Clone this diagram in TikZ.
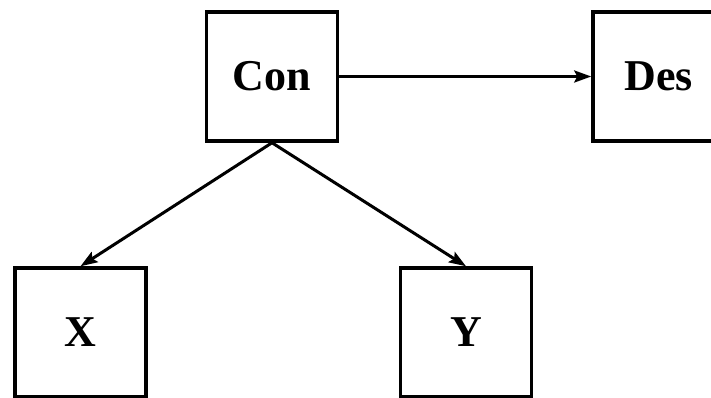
\documentclass[tikz,border=0pt]{standalone}
\usepackage{fontspec}
\setmainfont{Liberation Serif}
\usetikzlibrary{arrows.meta}
\tikzset{
  blockbox/.style={draw=black, line width=3.5pt, minimum width=131pt, minimum height=129pt, inner sep=0pt, font=\fontsize{44}{48}\selectfont\bfseries},
  conn/.style={line width=3pt, -{Stealth[length=17pt,width=12pt,inset=3pt]}}
}
\begin{document}
\begin{tikzpicture}[x=1pt,y=-1pt]
\useasboundingbox (0,0) rectangle (711,398);
\node[blockbox] (con) at (272,76.5) {Con};
\node[blockbox] (des) at (658.5,76.5) {Des};
\node[blockbox] (x) at (80.5,332.5) {X};
\node[blockbox] (y) at (466,332.5) {Y};
\draw[conn] (con.east) -- (des.west);
\draw[conn] (con.south) -- (x.north);
\draw[conn] (con.south) -- (y.north);
\end{tikzpicture}
\end{document}
